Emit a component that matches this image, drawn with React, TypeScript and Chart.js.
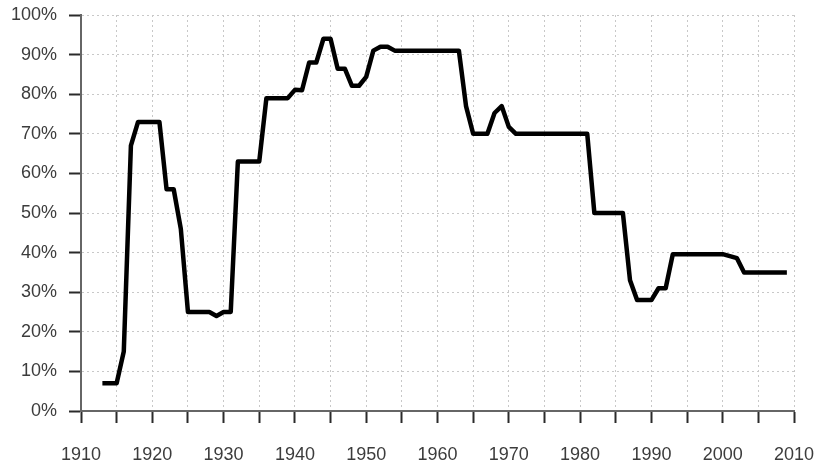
import React, { useEffect, useRef } from "react";
import { Chart, registerables } from "chart.js";

Chart.register(...registerables);

const years: number[] = [
  1913, 1914, 1915, 1916, 1917, 1918, 1919, 1920, 1921, 1922, 1923, 1924, 1925,
  1926, 1927, 1928, 1929, 1930, 1931, 1932, 1933, 1934, 1935, 1936, 1937, 1938,
  1939, 1940, 1941, 1942, 1943, 1944, 1945, 1946, 1947, 1948, 1949, 1950, 1951,
  1952, 1953, 1954, 1955, 1956, 1957, 1958, 1959, 1960, 1961, 1962, 1963, 1964,
  1965, 1966, 1967, 1968, 1969, 1970, 1971, 1972, 1973, 1974, 1975, 1976, 1977,
  1978, 1979, 1980, 1981, 1982, 1983, 1984, 1985, 1986, 1987, 1988, 1989, 1990,
  1991, 1992, 1993, 1994, 1995, 1996, 1997, 1998, 1999, 2000, 2001, 2002, 2003,
  2004, 2005, 2006, 2007, 2008, 2009,
];

const topRates: number[] = [
  7, 7, 7, 15, 67, 73, 73, 73, 73, 56, 56, 46, 25,
  25, 25, 25, 24, 25, 25, 63, 63, 63, 63, 79, 79, 79,
  79, 81.1, 81, 88, 88, 94, 94, 86.45, 86.45, 82.13, 82.13, 84.36, 91,
  92, 92, 91, 91, 91, 91, 91, 91, 91, 91, 91, 91, 77,
  70, 70, 70, 75.25, 77, 71.75, 70, 70, 70, 70, 70, 70, 70,
  70, 70, 70, 70, 50, 50, 50, 50, 50, 33, 28, 28, 28,
  31, 31, 39.6, 39.6, 39.6, 39.6, 39.6, 39.6, 39.6, 39.6, 39.1, 38.6, 35,
  35, 35, 35, 35, 35, 35,
];

const xMin = 1910;
const xMax = 2010;
const yMin = 0;
const yMax = 100;

export default function App() {
  const canvasRef = useRef<HTMLCanvasElement | null>(null);

  useEffect(() => {
    document.body.style.margin = "0";
    const canvas = canvasRef.current;
    if (!canvas) return;

    const axisColor = "#666666";
    const tickColor = "#2a2a2a";
    const gridColor = "#c8c8c8";
    const labelColor = "#3c3c3c";
    const font = { family: "'Liberation Sans', Arial, sans-serif", size: 18 };

    const chart = new Chart(canvas, {
      type: "line",
      data: {
        datasets: [
          {
            data: years.map((y, i) => ({ x: y, y: topRates[i] })),
            borderColor: "#000000",
            borderWidth: 4.5,
            pointRadius: 0,
            tension: 0,
            fill: false,
            borderJoinStyle: "round",
          },
        ],
      },
      options: {
        animation: false,
        responsive: true,
        maintainAspectRatio: false,
        layout: { padding: { top: 15, right: 24, bottom: 0, left: 0 } },
        plugins: {
          legend: { display: false },
          tooltip: { enabled: false },
        },
        scales: {
          x: {
            type: "linear",
            min: xMin,
            max: xMax,
            afterFit: (scale: any) => {
              scale.height = 53;
              scale.paddingLeft = 0;
              scale.paddingRight = 0;
            },
            ticks: {
              stepSize: 5,
              autoSkip: false,
              maxRotation: 0,
              color: labelColor,
              font,
              padding: 21,
              callback: (v: any) => (Number(v) % 10 === 0 ? String(v) : ""),
            },
            grid: {
              color: gridColor,
              lineWidth: 1,
              tickLength: 12,
              tickColor,
              tickWidth: 2,
            },
            border: {
              display: true,
              color: axisColor,
              width: 2,
              dash: [2, 3],
            },
          },
          y: {
            min: yMin,
            max: yMax,
            afterFit: (scale: any) => {
              scale.width = 81;
              scale.paddingTop = 0;
              scale.paddingBottom = 0;
            },
            ticks: {
              stepSize: 10,
              color: labelColor,
              font,
              padding: 12,
              callback: (v: any) => `${v}%`,
            },
            grid: {
              color: gridColor,
              lineWidth: 1,
              tickLength: 12,
              tickColor,
              tickWidth: 2,
            },
            border: {
              display: true,
              color: axisColor,
              width: 2,
              dash: [2, 3],
            },
          },
        },
      },
    });

    return () => {
      chart.destroy();
    };
  }, []);

  return (
    <div style={{ position: "absolute", left: 0, top: 0, width: 818, height: 464 }}>
      <canvas ref={canvasRef} />
    </div>
  );
}
